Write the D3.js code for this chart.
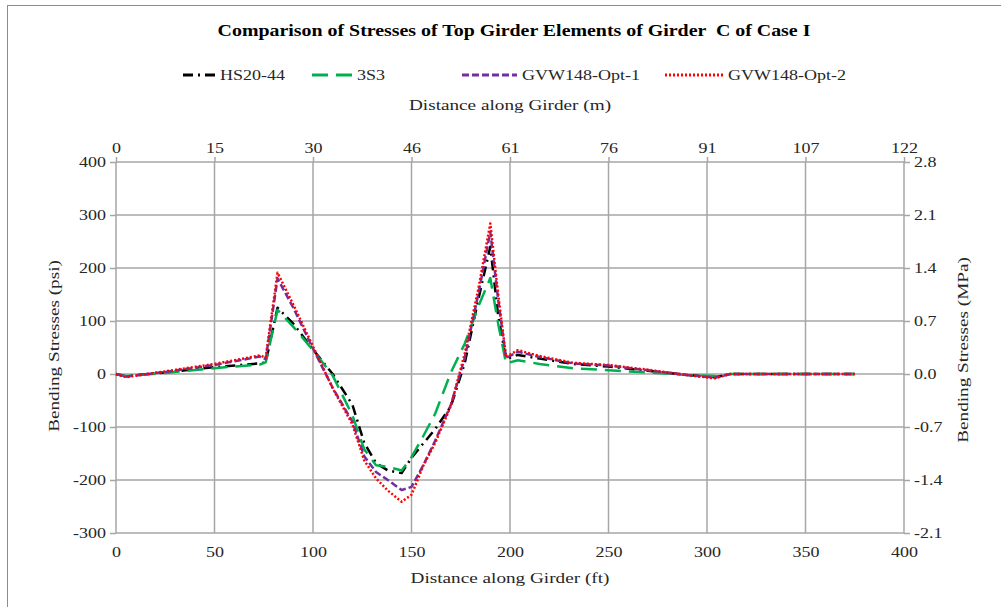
<!DOCTYPE html>
<html>
<head>
<meta charset="utf-8">
<script src="https://cdn.jsdelivr.net/npm/d3@7"></script>
<style>
  body { margin: 0; background: #fff; }
  svg { display: block; font-family: "Liberation Serif", "Times New Roman", serif; }
</style>
</head>
<body>
<svg id="chart" width="1001" height="607"></svg>
<script>
// distance along girder (ft)
const distances = [0, 5, 25, 50, 73, 76, 82, 90, 100, 110, 120, 126, 132, 138, 145, 150, 156, 162, 170, 177, 184, 190, 194, 198, 204, 215, 232, 250, 270, 290, 304, 312, 340, 375];

// bending stresses (psi)
const hs2044 = [0, -4, 3, 13, 20, 22, 125, 95, 46, 0, -58, -130, -168, -182, -187, -158, -131, -104, -61, 20, 142, 240, 110, 28, 36, 29, 19, 14, 6, -2, -6, 0, 0, 0];
const s3s3 = [0, -4, 2, 11, 18, 22, 121, 89, 45, -3, -78, -142, -172, -175, -182, -157, -117, -75, 3, 57, 128, 181, 95, 20, 26, 19, 11, 7, 3, -2, -4, 0, 0, 0];
const gvwOpt1 = [0, -5, 4, 17, 33, 28, 180, 125, 48, -26, -90, -155, -185, -200, -219, -213, -172, -126, -58, 30, 152, 268, 140, 30, 42, 32, 20, 16, 7, -2, -7, 0, 0, 0];
const gvwOpt2 = [0, -6, 5, 19, 35, 31, 191, 131, 52, -27, -95, -163, -197, -220, -241, -228, -173, -130, -60, 38, 162, 284, 150, 32, 45, 34, 21, 17, 8, -2, -8, 0, 0, 0];

const seriesNames = ["HS20-44", "3S3", "GVW148-Opt-1", "GVW148-Opt-2"];

// tick labels
const ftTicks = [0, 50, 100, 150, 200, 250, 300, 350, 400];
const mTickLabels = ["0", "15", "30", "46", "61", "76", "91", "107", "122"];
const psiTicks = [-300, -200, -100, 0, 100, 200, 300, 400];
const mpaTickLabels = ["-2.1", "-1.4", "-0.7", "0.0", "0.7", "1.4", "2.1", "2.8"];

const styles = [
    { color: "#000000", dash: "10,5,2,5", width: 2.5 },
    { color: "#00B050", dash: "16,8", width: 2.5 },
    { color: "#7030A0", dash: "7,3", width: 2.5 },
    { color: "#FF0000", dash: "2,2", width: 2.5 }
];
const legendX = [183, 312, 462, 665];
const legendLen = [32, 40, 55, 58];

const svg = d3.select("#chart");

// stretch text along its direction, the original font is wide
const stretch = (sel, factor) => sel.each(function() {
    const w = this.getComputedTextLength();
    d3.select(this).attr("textLength", w * factor).attr("lengthAdjust", "spacingAndGlyphs");
});

svg.append("rect")
    .attr("x", 7.5).attr("y", 5.5)
    .attr("width", 1100).attr("height", 700)
    .attr("fill", "#fff")
    .attr("stroke", "#8c8c8c");

const x = d3.scaleLinear().domain([0, 400]).range([116, 904]);
const y = d3.scaleLinear().domain([-300, 400]).range([533, 162]);

// grid
svg.append("g").selectAll("line")
    .data(psiTicks)
    .join("line")
    .attr("x1", x(0)).attr("x2", x(400))
    .attr("y1", d => y(d)).attr("y2", d => y(d))
    .attr("stroke", "#a6a6a6").attr("stroke-width", 1.5);

svg.append("g").selectAll("line")
    .data(ftTicks)
    .join("line")
    .attr("x1", d => x(d)).attr("x2", d => x(d))
    .attr("y1", y(400)).attr("y2", y(-300))
    .attr("stroke", "#a6a6a6").attr("stroke-width", 1.5);

// axes
const styleAxis = g => {
    g.select(".domain").remove();
    g.selectAll(".tick line").attr("stroke", "#a6a6a6").attr("stroke-width", 1.5);
    g.selectAll(".tick text").attr("fill", "#262626").attr("font-size", 15)
        .attr("font-family", "Liberation Serif, serif")
        .call(stretch, 1.2);
};

svg.append("g")
    .attr("transform", `translate(${x(0)},0)`)
    .call(d3.axisLeft(y).tickValues(psiTicks).tickSize(6).tickPadding(4)
        .tickFormat(d => String(d)))
    .call(styleAxis);

svg.append("g")
    .attr("transform", `translate(${x(400)},0)`)
    .call(d3.axisRight(y).tickValues(psiTicks).tickSize(6).tickPadding(4)
        .tickFormat((d, i) => mpaTickLabels[i]))
    .call(styleAxis);

svg.append("g")
    .attr("transform", `translate(0,${y(400)})`)
    .call(d3.axisTop(x).tickValues(ftTicks).tickSize(5).tickPadding(4)
        .tickFormat((d, i) => mTickLabels[i]))
    .call(styleAxis);

svg.append("g")
    .attr("transform", `translate(0,${y(-300)})`)
    .call(d3.axisBottom(x).tickValues(ftTicks).tickSize(0).tickPadding(13)
        .tickFormat(d => String(d)))
    .call(styleAxis);

// lines
const allSeries = [hs2044, s3s3, gvwOpt1, gvwOpt2];
const line = d3.line()
    .x((d, i) => x(distances[i]))
    .y(d => y(d));

svg.append("g").selectAll("path")
    .data(allSeries)
    .join("path")
    .attr("d", d => line(d))
    .attr("fill", "none")
    .attr("stroke", (d, i) => styles[i].color)
    .attr("stroke-width", (d, i) => styles[i].width)
    .attr("stroke-dasharray", (d, i) => styles[i].dash)
    .attr("stroke-linejoin", "round");

// title
svg.append("text")
    .attr("x", 514).attr("y", 36)
    .attr("text-anchor", "middle")
    .attr("font-size", 17).attr("font-weight", "bold")
    .attr("fill", "#000")
    .style("white-space", "pre")
    .text("Comparison of Stresses of Top Girder Elements of Girder  C of Case I")
    .call(stretch, 1.17);

// legend
const legend = svg.append("g").selectAll("g")
    .data(seriesNames)
    .join("g")
    .attr("transform", (d, i) => `translate(${legendX[i]},75)`);

legend.append("line")
    .attr("x1", 0).attr("x2", (d, i) => legendLen[i])
    .attr("y1", 0).attr("y2", 0)
    .attr("stroke", (d, i) => styles[i].color)
    .attr("stroke-width", 3)
    .attr("stroke-dasharray", (d, i) => styles[i].dash);

legend.append("text")
    .attr("x", (d, i) => legendLen[i] + 5)
    .attr("y", 5)
    .attr("font-size", 15)
    .attr("fill", "#262626")
    .text(d => d)
    .call(stretch, 1.2);

// axis titles
svg.append("text")
    .attr("x", 510).attr("y", 110)
    .attr("text-anchor", "middle").attr("font-size", 15).attr("fill", "#262626")
    .text("Distance along Girder (m)")
    .call(stretch, 1.28);

svg.append("text")
    .attr("x", 510).attr("y", 583)
    .attr("text-anchor", "middle").attr("font-size", 15).attr("fill", "#262626")
    .text("Distance along Girder (ft)")
    .call(stretch, 1.28);

svg.append("text")
    .attr("transform", "translate(59,346) rotate(-90)")
    .attr("text-anchor", "middle").attr("font-size", 15).attr("fill", "#262626")
    .text("Bending Stresses (psi)")
    .call(stretch, 1.28);

svg.append("text")
    .attr("transform", "translate(968,350) rotate(-90)")
    .attr("text-anchor", "middle").attr("font-size", 15).attr("fill", "#262626")
    .text("Bending Stresses (MPa)")
    .call(stretch, 1.28);
</script>
</body>
</html>
